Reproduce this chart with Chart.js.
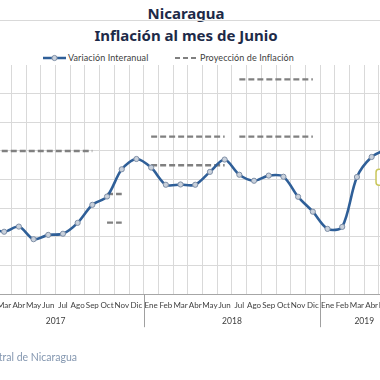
<!DOCTYPE html>
<html><head><meta charset="utf-8">
<script src="https://cdn.jsdelivr.net/npm/chart.js@4"></script>
<style>
html,body{margin:0;padding:0;width:380px;height:380px;overflow:hidden;background:#fff;position:relative;font-family:Lato,"Noto Sans",sans-serif}
.t{position:absolute;left:0;width:372px;text-align:center;font-weight:bold;font-size:15px;color:#1d2a48;font-family:"Noto Sans",Lato,sans-serif;white-space:nowrap}
#sep{position:absolute;left:0;top:20px;width:380px;height:1px;background:#d9d9d9}
.lg{position:absolute;font-size:9px;color:#404040;white-space:nowrap;line-height:12px;letter-spacing:0.1px}
#box{position:absolute;left:-80px;top:0;width:494px;height:380px}
#src{position:absolute;right:303px;top:350px;font-size:10.5px;color:#8497b0;white-space:nowrap;line-height:14px}
</style></head>
<body>
<div class="t" style="top:3px">Nicaragua</div>
<div id="sep"></div>
<div class="t" style="top:25px">Inflación al mes de Junio</div>
<svg style="position:absolute;left:43px;top:53px" width="23" height="10"><line x1="0" y1="5" x2="23" y2="5" stroke="#2f5f98" stroke-width="2.5"/><circle cx="11.5" cy="5" r="2.6" fill="#c9d1dc" stroke="#7f8fa6" stroke-width="1"/></svg>
<div class="lg" style="left:68px;top:52px">Variación Interanual</div>
<svg style="position:absolute;left:175px;top:53px" width="23" height="10"><line x1="0" y1="5" x2="23" y2="5" stroke="#808080" stroke-width="2" stroke-dasharray="5,3"/></svg>
<div class="lg" style="left:200px;top:52px">Proyección de Inflación</div>
<div id="box"><canvas id="c" width="494" height="380"></canvas></div>
<div id="src">Fuente: Banco Central de Nicaragua</div>
<script>
const meses = ["Ene","Feb","Mar","Abr","May","Jun","Jul","Ago","Sep","Oct","Nov","Dic",
               "Ene","Feb","Mar","Abr","May","Jun","Jul","Ago","Sep","Oct","Nov","Dic",
               "Ene","Feb","Mar","Abr","May","Jun"];
const anios = ["2017","2018","2019"];
const inflacion = [3.60,3.35,3.18,3.36,2.92,3.07,3.11,3.49,4.12,4.41,5.36,5.72,
                   5.42,4.82,4.83,4.82,5.27,5.70,5.17,4.96,5.14,5.10,4.40,3.88,
                   3.28,3.35,5.09,5.79,6.05,6.20];
const proyAlta = [6.0,6.0,6.0,6.0,6.0,6.0,6.0,6.0,6.0,4.5,4.5,null,
                  6.5,6.5,6.5,6.5,6.5,6.5,8.5,8.5,8.5,8.5,8.5,8.5,
                  null,null,null,null,null,null];
const proyBaja = [null,null,null,null,null,null,null,null,null,3.5,3.5,null,
                  5.5,5.5,5.5,5.5,5.5,5.5,6.5,6.5,6.5,6.5,6.5,6.5,
                  null,null,null,null,null,null];

const hideJump = ctx => ctx.p0.parsed.y !== ctx.p1.parsed.y ? 'rgba(0,0,0,0)' : undefined;

const extras = {
  id:'extras',
  afterDraw(chart){
    const {ctx, chartArea:a, scales:{x,y}} = chart;
    ctx.save();
    const n = meses.length;
    const bnd = k => k<=0 ? a.left : k>=n ? a.right : (x.getPixelForValue(k-1)+x.getPixelForValue(k))/2;
    ctx.strokeStyle='#a0a0a0'; ctx.lineWidth=1;
    [0,12,24,n].forEach(k=>{ const px=Math.round(bnd(k))+0.5; ctx.beginPath(); ctx.moveTo(px,a.bottom); ctx.lineTo(px,a.bottom+33); ctx.stroke(); });
    ctx.fillStyle='#404040'; ctx.font='8.5px Lato'; ctx.textAlign='center'; ctx.textBaseline='middle';
    anios.forEach((t,i)=>{ const s=i*12, e=Math.min(n-1,s+11); ctx.fillText(t,(x.getPixelForValue(s)+x.getPixelForValue(e))/2,a.bottom+27); });
    const li = inflacion.length-1;
    const lx = x.getPixelForValue(li), ly = y.getPixelForValue(inflacion[li]);
    const bx = lx-25, by = ly+24, bw = 50, bh = 16;
    ctx.fillStyle='#ffffff'; ctx.strokeStyle='#c9c65a'; ctx.lineWidth=1.5;
    ctx.beginPath(); ctx.roundRect(bx,by,bw,bh,3); ctx.fill(); ctx.stroke();
    ctx.fillStyle='#2f5f98'; ctx.font='bold 9px Lato';
    ctx.fillText(inflacion[li].toFixed(2),lx,by+bh/2);
    ctx.restore();
  }
};

new Chart(document.getElementById('c'), {
  type:'line',
  data:{ labels:meses, datasets:[
    {label:'Variación Interanual', data:inflacion, borderColor:'#2f5f98', borderWidth:2.6, tension:0.3,
     pointRadius:2.6, pointBackgroundColor:'#c9d1dc', pointBorderColor:'#7f8fa6', pointBorderWidth:1, order:0},
    {label:'Proyección de Inflación', data:proyAlta, borderColor:'#808080', borderWidth:2.4, borderDash:[6,3],
     pointRadius:0, spanGaps:false, segment:{borderColor:hideJump}, order:1},
    {label:'Proyección baja', data:proyBaja, borderColor:'#808080', borderWidth:2.4, borderDash:[6,3],
     pointRadius:0, spanGaps:false, segment:{borderColor:hideJump}, order:1}
  ]},
  options:{
    responsive:false, animation:false,
    layout:{padding:{left:47.4, right:3.8, top:65, bottom:62.6}},
    plugins:{legend:{display:false}, tooltip:{enabled:false}},
    scales:{
      x:{offset:true, grid:{offset:true, color:'#d9d9d9', drawTicks:false},
         border:{color:'#a6a6a6'},
         ticks:{padding:6.8, autoSkip:false, maxRotation:0, color:'#404040', font:{family:'Lato', size:8}}},
      y:{min:1, max:9, grid:{color:c=>c.tick.value===9?'rgba(0,0,0,0)':'#d9d9d9', drawTicks:false},
         border:{display:false}, ticks:{display:false, stepSize:1}}
    }
  },
  plugins:[extras]
});
</script>
</body></html>
